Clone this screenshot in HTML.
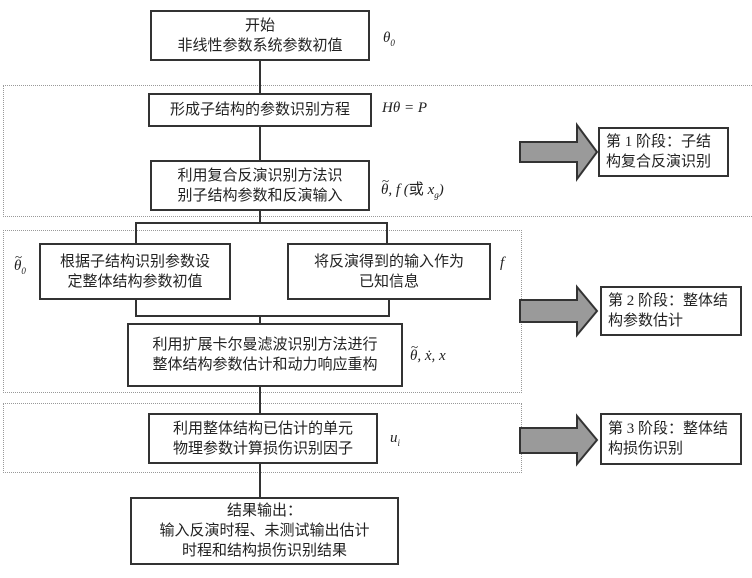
<!DOCTYPE html>
<html><head><meta charset="utf-8"><style>
body{margin:0;background:#fff;}
#c{position:relative;width:752px;height:578px;overflow:hidden;font-family:"Liberation Serif","Noto Sans CJK SC",sans-serif;color:#222;}
.b{position:absolute;border:2px solid #333;box-sizing:border-box;display:flex;align-items:center;justify-content:center;text-align:center;font-size:15px;line-height:20px;background:#fff;}
.d{position:absolute;border:1px dotted #999;box-sizing:border-box;}
.l{position:absolute;background:#333;}
.t{position:absolute;font-style:italic;font-size:15px;white-space:nowrap;}
.s{position:absolute;border:2px solid #333;box-sizing:border-box;font-size:15px;line-height:21px;padding:4px 6px;}
.tt{position:relative;display:inline-block;}
.tt:before{content:"~";position:absolute;left:1px;top:-9px;font-style:normal;font-size:13px;}
</style></head><body><div id="c">
<div class="d" style="left:3px;top:85px;width:749px;height:132px;border-right:none"></div>
<div class="d" style="left:3px;top:230px;width:519px;height:163px"></div>
<div class="d" style="left:3px;top:403px;width:519px;height:70px"></div>

<div class="l" style="left:259px;top:61px;width:2px;height:163px"></div>
<div class="l" style="left:259px;top:315px;width:2px;height:182px"></div>
<div class="l" style="left:135px;top:222px;width:253px;height:2px"></div>
<div class="l" style="left:135px;top:222px;width:2px;height:22px"></div>
<div class="l" style="left:386px;top:222px;width:2px;height:22px"></div>
<div class="l" style="left:135px;top:298px;width:2px;height:18px"></div>
<div class="l" style="left:388px;top:298px;width:2px;height:18px"></div>
<div class="l" style="left:135px;top:315px;width:255px;height:2px"></div>

<div class="b" style="left:150px;top:10px;width:220px;height:51px">开始<br>非线性参数系统参数初值</div>
<div class="b" style="left:148px;top:93px;width:224px;height:34px">形成子结构的参数识别方程</div>
<div class="b" style="left:150px;top:160px;width:220px;height:51px">利用复合反演识别方法识<br>别子结构参数和反演输入</div>
<div class="b" style="left:39px;top:243px;width:192px;height:57px">根据子结构识别参数设<br>定整体结构参数初值</div>
<div class="b" style="left:287px;top:243px;width:204px;height:57px">将反演得到的输入作为<br>已知信息</div>
<div class="b" style="left:127px;top:323px;width:276px;height:64px">利用扩展卡尔曼滤波识别方法进行<br>整体结构参数估计和动力响应重构</div>
<div class="b" style="left:148px;top:413px;width:230px;height:51px">利用整体结构已估计的单元<br>物理参数计算损伤识别因子</div>
<div class="b" style="left:130px;top:497px;width:269px;height:68px">结果输出：<br>输入反演时程、未测试输出估计<br>时程和结构损伤识别结果</div>

<div class="t" style="left:383px;top:30px">θ<sub style="font-size:9px">0</sub></div>
<div class="t" style="left:382px;top:100px">Hθ = P</div>
<div class="t" style="left:381px;top:178px"><span class="tt">θ</span>, f (<span style="font-style:normal">或</span> x<sub style="font-size:9px">g</sub>)</div>
<div class="t" style="left:14px;top:258px"><span class="tt">θ</span><sub style="font-size:9px">0</sub></div>
<div class="t" style="left:500px;top:255px">f</div>
<div class="t" style="left:410px;top:348px"><span class="tt">θ</span>, ẋ, x</div>
<div class="t" style="left:390px;top:430px">u<sub style="font-size:9px">i</sub></div>

<svg style="position:absolute;left:0;top:0" width="752" height="578">
<g fill="#9a9a9a" stroke="#333" stroke-width="2">
<polygon points="520,142 577,142 577,125 597,152 577,179 577,162 520,162"/>
<polygon points="520,300 577,300 577,287 597,311 577,335 577,322 520,322"/>
<polygon points="520,428 577,428 577,416 597,440 577,464 577,453 520,453"/>
</g></svg>
<div class="s" style="left:598px;top:127px;width:131px;height:50px;line-height:20px;padding:3px 6px">第 1 阶段：子结构复合反演识别</div>
<div class="s" style="left:600px;top:286px;width:142px;height:50px;line-height:20px;padding:3px 6px">第 2 阶段：整体结构参数估计</div>
<div class="s" style="left:600px;top:413px;width:142px;height:52px;line-height:20px;padding:4px 6px">第 3 阶段：整体结构损伤识别</div>
</div></body></html>
